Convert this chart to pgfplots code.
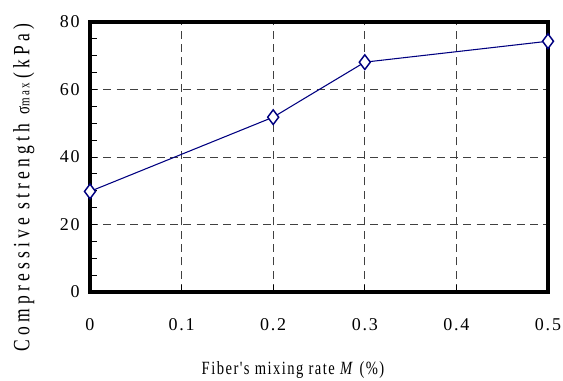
\documentclass[border=0pt]{standalone}
\usepackage{pgfplots}
\pgfplotsset{compat=1.18}
\usepackage{fontspec}
\setmainfont{Liberation Serif}
\newfontfamily\xlabelfont[FakeStretch=0.78, LetterSpace=8]{Liberation Serif}
\newfontfamily\ylabelfont[FakeStretch=0.75, LetterSpace=18]{Liberation Serif}
\newfontfamily\tickfont[LetterSpace=10]{Liberation Serif}
\definecolor{navyline}{RGB}{0,0,128}
\begin{document}
\fontsize{13.5}{16}\selectfont
\begin{tikzpicture}
\begin{axis}[
  scale only axis,
  width=343.5pt, height=202.5pt,
  xmin=0, xmax=0.5, ymin=0, ymax=80,
  xtick={0,0.1,0.2,0.3,0.4,0.5},
  ytick={0,20,40,60,80},
  minor y tick num=3,
  xticklabels={0,0.1,0.2,0.3,0.4,0.5},
  yticklabels={0,20,40,60,80},
  /pgf/number format/assume math mode=true,
  ticklabel style={font=\tickfont},
  tick align=inside,
  xtick pos=bottom, ytick pos=left,
  major tick length=5pt, minor tick length=5pt,
  tick style={black, line width=0.6pt},
  axis line style={line width=2.6pt},
  grid=major,
  major grid style={black!75, line width=0.6pt, dash pattern=on 6pt off 4pt},
  xticklabel style={yshift=-15pt},
  yticklabel style={xshift=-3pt},
  xlabel={Fiber's mixing rate \textit{M} (\%)},
  ylabel={Compressive strength {\fontsize{15}{17}\selectfont σ}{\fontsize{11}{13}\selectfont max}\,(kPa)},
  xlabel style={font=\xlabelfont\fontsize{14}{17}\selectfont, yshift=-14pt, xshift=-19.5pt},
  ylabel style={font=\ylabelfont\fontsize{17.5}{20}\selectfont, yshift=10pt, xshift=-23pt},
  clip=false,
]
\addplot[color=navyline, line width=0.8pt, mark=diamond*, mark size=5.5pt,
  mark options={fill=white, draw=navyline, line width=1.1pt}]
  coordinates {(0,29.8) (0.2,51.8) (0.3,68.1) (0.5,74.3)};
\end{axis}
\pgfresetboundingbox
\path (current axis.south west) ++(-67.5pt,-66.75pt) coordinate (bl);
\path (current axis.north east) ++(11.25pt,16.5pt) coordinate (tr);
\path[use as bounding box] (bl) rectangle (tr);
\end{tikzpicture}
\end{document}
